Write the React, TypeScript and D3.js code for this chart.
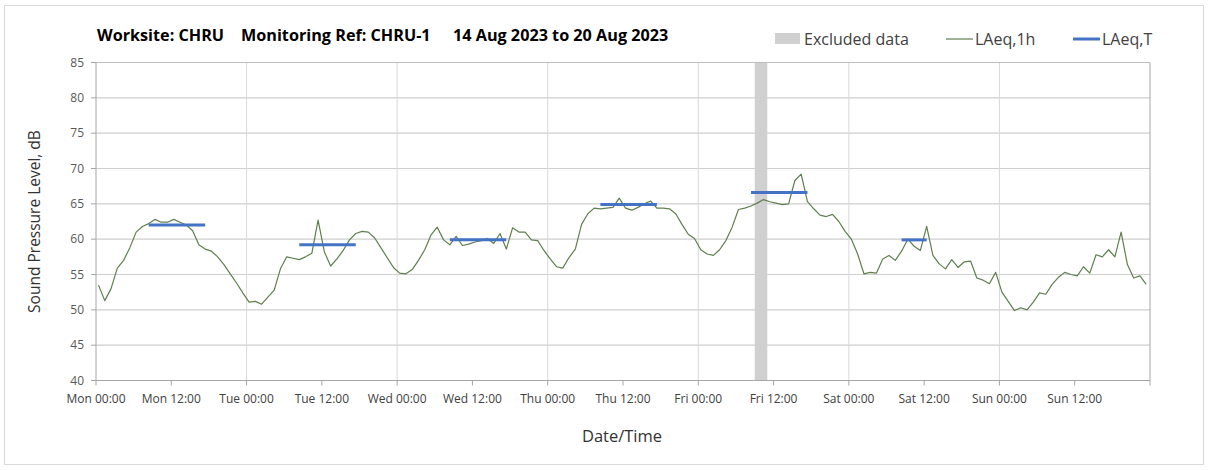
import React from "react";
import * as d3 from "d3";

// Hourly LAeq,1h values, Mon 00:00 .. Sun 23:00
const hourlyLevels: number[] = [
  53.5, 51.3, 53.0, 55.9, 57.0, 58.8, 61.0, 61.8, 62.2, 62.8,
  62.4, 62.4, 62.8, 62.4, 62.0, 61.2, 59.2, 58.6, 58.3, 57.5,
  56.4, 55.1, 53.8, 52.4, 51.1, 51.2, 50.8, 51.8, 52.8, 55.8,
  57.5, 57.3, 57.1, 57.5, 58.0, 62.7, 58.2, 56.2, 57.2, 58.4,
  59.9, 60.8, 61.1, 61.0, 60.2, 58.8, 57.4, 56.0, 55.2, 55.1,
  55.7, 57.0, 58.5, 60.6, 61.7, 59.9, 59.2, 60.4, 59.1, 59.3,
  59.6, 59.8, 60.1, 59.4, 60.8, 58.6, 61.6, 61.0, 61.0, 59.9,
  59.8, 58.4, 57.2, 56.1, 55.9, 57.4, 58.6, 62.1, 63.6, 64.4,
  64.3, 64.4, 64.5, 65.8, 64.4, 64.1, 64.5, 65.0, 65.4, 64.4,
  64.4, 64.3, 63.6, 62.1, 60.7, 60.1, 58.5, 57.9, 57.7, 58.5,
  59.8, 61.7, 64.2, 64.4, 64.7, 65.1, 65.6, 65.3, 65.1, 64.9,
  65.0, 68.3, 69.2, 65.3, 64.3, 63.4, 63.2, 63.5, 62.5, 61.1,
  60.0, 57.9, 55.1, 55.3, 55.2, 57.2, 57.7, 57.0, 58.3, 60.0,
  59.0, 58.4, 61.8, 57.7, 56.5, 55.8, 57.1, 56.0, 56.8, 56.9,
  54.5, 54.2, 53.7, 55.3, 52.5, 51.2, 49.9, 50.3, 50.0, 51.1,
  52.4, 52.2, 53.6, 54.6, 55.3, 55.0, 54.8, 56.1, 55.2, 57.8,
  57.5, 58.5, 57.5, 61.0, 56.4, 54.5, 54.8, 53.6,
];

// LAeq,T periods (hour index from Mon 00:00, inclusive) and levels
const periodStart: number[] = [8, 32, 56, 80, 104, 128];
const periodEnd: number[] = [17, 41, 65, 89, 113, 132];
const periodLevel: number[] = [62.0, 59.2, 59.9, 64.9, 66.6, 59.9];

// Excluded data window (hours from Mon 00:00)
const excludedStart = 105;
const excludedEnd = 107;

const xTickLabels: string[] = [
  "Mon 00:00", "Mon 12:00", "Tue 00:00", "Tue 12:00", "Wed 00:00", "Wed 12:00",
  "Thu 00:00", "Thu 12:00", "Fri 00:00", "Fri 12:00", "Sat 00:00", "Sat 12:00",
  "Sun 00:00", "Sun 12:00",
];
const yTicks: number[] = [40, 45, 50, 55, 60, 65, 70, 75, 80, 85];

const POINT_OFFSET = 0.4; // hourly points sit slightly after the hour start
const FONT = "'Open Sans', 'Noto Sans', sans-serif";

export default function App() {
  const W = 1208, H = 470;
  const x = d3.scaleLinear().domain([0, 168]).range([96, 1150]);
  const y = d3.scaleLinear().domain([40, 85]).range([380.5, 62.5]);

  const line = d3
    .line<number>()
    .x((_, i) => x(i + POINT_OFFSET))
    .y((d) => y(d));

  const xTicks = d3.range(0, 169, 12);
  const dayLines = d3.range(24, 168, 24);

  return (
    <svg
      width={W}
      height={H}
      style={{ position: "absolute", left: 0, top: 0, display: "block", background: "#fff" }}
    >
      <rect x={4.5} y={5.5} width={1199} height={459} fill="#fff" stroke="#d9d9d9" />

      {/* title */}
      <g fontFamily={FONT} fontWeight="bold" fontSize={16.2} fill="#000">
        <text x={97} y={41}>Worksite: CHRU</text>
        <text x={241} y={41}>Monitoring Ref: CHRU-1</text>
        <text x={453} y={41}>14 Aug 2023 to 20 Aug 2023</text>
      </g>

      {/* legend */}
      <g fontFamily={FONT} fontSize={16} fill="#404040">
        <rect x={775} y={33} width={25} height={11} fill="#d0d0d0" />
        <text x={804} y={44.5}>Excluded data</text>
        <line x1={946} x2={973} y1={39} y2={39} stroke="#5f7f4e" strokeWidth={1.2} />
        <text x={975} y={44.5}>LAeq,1h</text>
        <line x1={1073} x2={1100} y1={39} y2={39} stroke="#4472c4" strokeWidth={3} />
        <text x={1102} y={44.5}>LAeq,T</text>
      </g>

      {/* excluded band */}
      <rect
        x={x(excludedStart)}
        y={y(85)}
        width={x(excludedEnd) - x(excludedStart)}
        height={y(40) - y(85)}
        fill="#d0d0d0"
      />

      {/* gridlines */}
      {yTicks.slice(1).map((t) => (
        <line key={"gy" + t} x1={x(0)} x2={x(168)} y1={y(t)} y2={y(t)} stroke="#cfcfcf" strokeWidth={1.2} />
      ))}
      {dayLines.map((h) => (
        <line key={"gx" + h} x1={x(h)} x2={x(h)} y1={y(85)} y2={y(40)} stroke="#d9d9d9" strokeWidth={1} />
      ))}

      {/* plot frame */}
      <line x1={x(168)} x2={x(168)} y1={y(85)} y2={y(40)} stroke="#a6a6a6" />
      <line x1={x(0)} x2={x(168)} y1={y(85)} y2={y(85)} stroke="#bfbfbf" />

      {/* data */}
      <path d={line(hourlyLevels) || ""} fill="none" stroke="#5f7f4e" strokeWidth={1.2} strokeLinejoin="round" />
      {periodStart.map((s, i) => (
        <line
          key={"p" + i}
          x1={x(s + POINT_OFFSET)}
          x2={x(periodEnd[i] + POINT_OFFSET)}
          y1={y(periodLevel[i])}
          y2={y(periodLevel[i])}
          stroke="#4472c4"
          strokeWidth={3}
        />
      ))}

      {/* y axis */}
      <line x1={x(0)} x2={x(0)} y1={y(85)} y2={y(40) + 0.5} stroke="#a6a6a6" />
      {yTicks.map((t) => (
        <g key={"yt" + t}>
          <line x1={x(0) - 5} x2={x(0)} y1={y(t)} y2={y(t)} stroke="#a6a6a6" />
          <text
            x={84}
            y={y(t)}
            dy="0.35em"
            textAnchor="end"
            fontFamily={FONT}
            fontSize={12}
            fill="#595959"
          >
            {t}
          </text>
        </g>
      ))}

      {/* x axis */}
      <line x1={x(0) - 5} x2={x(168)} y1={y(40)} y2={y(40)} stroke="#a6a6a6" />
      {xTicks.map((h) => (
        <line key={"xt" + h} x1={x(h)} x2={x(h)} y1={y(40)} y2={y(40) + 5} stroke="#a6a6a6" />
      ))}
      {xTickLabels.map((lab, i) => (
        <text
          key={"xl" + i}
          x={x(i * 12)}
          y={403}
          textAnchor="middle"
          fontFamily={FONT}
          fontSize={12}
          fill="#404040"
        >
          {lab}
        </text>
      ))}

      {/* axis titles */}
      <text
        transform={`translate(40,${(y(85) + y(40)) / 2}) rotate(-90)`}
        textAnchor="middle"
        fontFamily={FONT}
        fontSize={15.5}
        fill="#333"
      >
        Sound Pressure Level, dB
      </text>
      <text x={622} y={442} textAnchor="middle" fontFamily={FONT} fontSize={16.5} fill="#333">
        Date/Time
      </text>
    </svg>
  );
}
